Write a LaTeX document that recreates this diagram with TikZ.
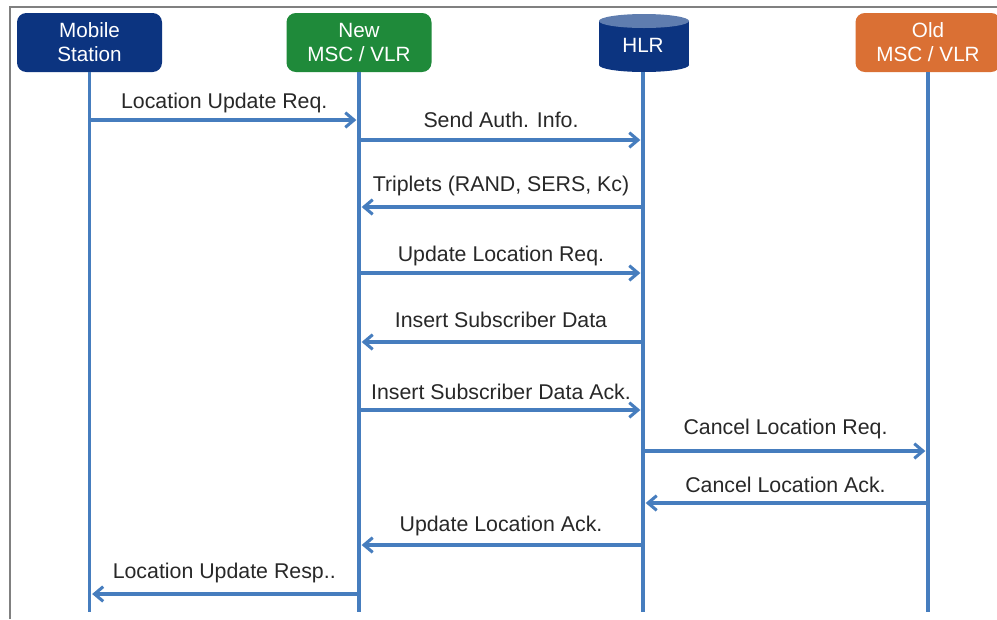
\documentclass[tikz,border=0pt]{standalone}
\usepackage{fontspec}
\setmainfont{Liberation Sans}
\usetikzlibrary{arrows.meta}
\definecolor{navy}{RGB}{12,52,128}
\definecolor{boxgreen}{RGB}{31,138,58}
\definecolor{boxorange}{RGB}{218,112,52}
\definecolor{hlrtop}{RGB}{95,125,175}
\definecolor{lineblue}{RGB}{70,125,190}
\definecolor{textgray}{RGB}{40,40,40}
\definecolor{framegray}{RGB}{128,128,128}
\begin{document}
\begin{tikzpicture}[x=0.75pt,y=-0.75pt,
  box/.style={rounded corners=7pt, minimum width=108.75pt, minimum height=44.25pt,
    inner sep=0pt, align=center, text=white, font=\fontsize{15.5}{18}\selectfont},
  life/.style={draw=lineblue, line width=2.3pt},
  msg/.style={draw=lineblue, line width=2.3pt, -{Straight Barb[length=6.5pt,width=11pt]}, shorten >=2pt},
  lbl/.style={text=textgray, font=\fontsize{16}{19}\selectfont, inner sep=0pt}
]
\useasboundingbox (0,0) rectangle (997,619);
\fill[white] (0,0) rectangle (997,619);
\draw[framegray, line width=1.8pt] (10,619) -- (10,7) -- (997,7);

% headers
\node[box, fill=navy] (ms) at (89.5,42.5) {Mobile\\Station};
\node[box, fill=boxgreen] (new) at (359,42.5) {New\\MSC / VLR};
\node[box, fill=boxorange] (old) at (928,42.5) {Old\\MSC / VLR};

% HLR cylinder
\fill[navy] (599,21) rectangle (689,65);
\fill[navy] (644,65) ellipse [x radius=45, y radius=7];
\fill[hlrtop] (644,21) ellipse [x radius=45, y radius=7];
\node[text=white, font=\fontsize{15.5}{18}\selectfont, inner sep=0pt] (hlr) at (643,45) {HLR};
\coordinate (hlrb) at (643,72);

% lifelines
\coordinate (endrow) at (0,612);
\draw[life] (ms.south) -- (ms |- endrow);
\draw[life] (new.south) -- (new |- endrow);
\draw[life] (hlrb) -- (hlrb |- endrow);
\draw[life] (old.south) -- (old |- endrow);

% rows
\coordinate (r1) at (0,120);
\coordinate (r2) at (0,140);
\coordinate (r3) at (0,207);
\coordinate (r4) at (0,273);
\coordinate (r5) at (0,342);
\coordinate (r6) at (0,410);
\coordinate (r7) at (0,451);
\coordinate (r8) at (0,503);
\coordinate (r9) at (0,545);
\coordinate (r10) at (0,594);

\draw[msg] (ms |- r1) -- node[lbl, yshift=12.75pt] (l1) {Location Update Req.} (new |- r1);
\draw[msg] (new |- r2) -- node[lbl, yshift=15pt] (l2) {Send Auth. Info.} (hlrb |- r2);
\draw[msg] (hlrb |- r3) -- node[lbl, yshift=15.75pt] (l3) {Triplets (RAND, SERS, Kc)} (new |- r3);
\draw[msg] (new |- r4) -- node[lbl, yshift=12.75pt] (l4) {Update Location Req.} (hlrb |- r4);
\draw[msg] (hlrb |- r5) -- node[lbl, yshift=16.5pt] (l5) {Insert Subscriber Data} (new |- r5);
\draw[msg] (new |- r6) -- node[lbl, yshift=13.5pt] (l6) {Insert Subscriber Data Ack.} (hlrb |- r6);
\draw[msg] (hlrb |- r7) -- node[lbl, yshift=16.5pt] (l7) {Cancel Location Req.} (old |- r7);
\draw[msg] (old |- r8) -- node[lbl, yshift=13.5pt] (l8) {Cancel Location Ack.} (hlrb |- r8);
\draw[msg] (hlrb |- r9) -- node[lbl, yshift=14.25pt] (l9) {Update Location Ack.} (new |- r9);
\draw[msg] (new |- r10) -- node[lbl, yshift=15.75pt] (l10) {Location Update Resp..} (ms |- r10);
\end{tikzpicture}
\end{document}
